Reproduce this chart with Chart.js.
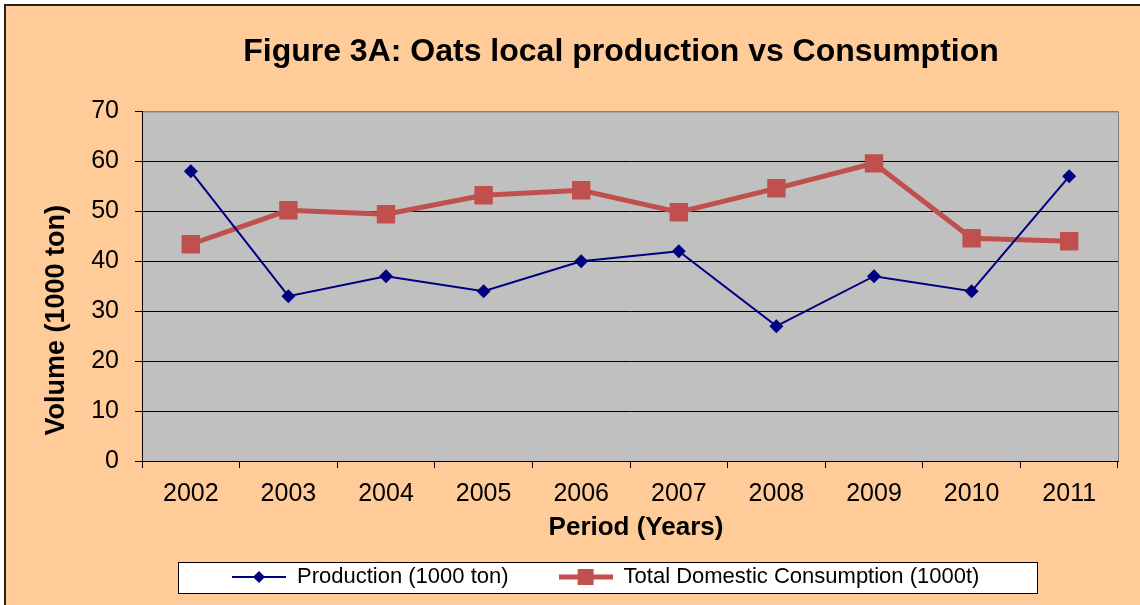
<!DOCTYPE html>
<html>
<head>
<meta charset="utf-8">
<script src="https://cdn.jsdelivr.net/npm/chart.js@4"></script>
<style>
  body { margin: 0; background: #fff; overflow: hidden; }
  #wrap { width: 1140px; height: 605px; }
</style>
</head>
<body>
<div id="wrap"><canvas id="myChart" width="1140" height="605"></canvas></div>
<script>
const years = ['2002', '2003', '2004', '2005', '2006', '2007', '2008', '2009', '2010', '2011'];
const production = [58, 33, 37, 34, 40, 42, 27, 37, 34, 57];
const consumption = [43.4, 50.2, 49.4, 53.2, 54.2, 49.8, 54.6, 59.6, 44.6, 44.0];
const yTicks = [0, 10, 20, 30, 40, 50, 60, 70];

const FONT = '"Liberation Sans", Arial, sans-serif';
const NAVY = '#000080';
const RED = '#C0504D';

// little canvas: line with marker in the middle, for the legend
function legendIcon(color, lineW, style, r) {
	const c = document.createElement('canvas');
	c.width = 54; c.height = 26;
	const g = c.getContext('2d');
	g.strokeStyle = color; g.lineWidth = lineW;
	g.beginPath(); g.moveTo(0, 13); g.lineTo(54, 13); g.stroke();
	g.fillStyle = color;
	if (style === 'rect') {
		g.fillRect(27 - r, 13 - r, 2 * r, 2 * r);
	} else {
		g.beginPath(); g.moveTo(27 - r, 13); g.lineTo(27, 13 - r); g.lineTo(27 + r, 13); g.lineTo(27, 13 + r); g.closePath(); g.fill();
	}
	return c;
}

// move a scale title by dx/dy without touching the scale itself
function nudgeTitle(scale, dx, dy) {
	if (scale._nudged) return;
	const orig = scale.drawTitle.bind(scale);
	scale.drawTitle = function (area) {
		this.ctx.save();
		this.ctx.translate(dx, dy);
		orig(area);
		this.ctx.restore();
	};
	scale._nudged = true;
}

const bgPlugin = {
	id: 'bg',
	afterLayout(chart) {
		const tb = chart.titleBlock;
		const tShift = 621 - (tb.left + tb.right) / 2;
		tb.left += tShift; tb.right += tShift;

		const lg = chart.legend;
		lg.options.labels.padding = 50;
		const start = (lg.left + lg.right + 50 - lg.lineWidths[0]) / 2;
		const d = 232 - start;
		lg.left += d; lg.right += d;
		lg.top = 566 - 50; lg.bottom = chart.height;

		nudgeTitle(chart.scales.y, 0, 34);
		nudgeTitle(chart.scales.x, 6, 0);
	},
	beforeDraw(chart) {
		const ctx = chart.ctx;
		const a = chart.chartArea;
		ctx.save();
		ctx.fillStyle = '#FFCC99';
		ctx.fillRect(5, 5, chart.width, chart.height);
		ctx.strokeStyle = '#222';
		ctx.lineWidth = 2;
		ctx.beginPath(); ctx.moveTo(5, chart.height); ctx.lineTo(5, 5); ctx.lineTo(chart.width, 5); ctx.stroke();
		ctx.fillStyle = '#C0C0C0';
		ctx.fillRect(a.left, a.top, a.right - a.left, a.bottom - a.top);
		ctx.strokeStyle = '#808080';
		ctx.lineWidth = 1;
		ctx.strokeRect(a.left + 0.5, a.top + 0.5, a.right - a.left, a.bottom - a.top);
		// legend frame
		const hb = chart.legend.legendHitBoxes;
		if (hb && hb.length) {
			const l = Math.min(...hb.map(b => b.left)) - 54;
			const r = Math.max(...hb.map(b => b.left + b.width)) + 58;
			const t = Math.min(...hb.map(b => b.top)) - 4;
			const b = Math.max(...hb.map(b => b.top + b.height)) + 5;
			ctx.fillStyle = '#fff';
			ctx.fillRect(l, t, r - l, b - t);
			ctx.strokeStyle = '#000';
			ctx.strokeRect(Math.round(l) + 0.5, Math.round(t) + 0.5, Math.round(r - l), Math.round(b - t));
		}
		ctx.restore();
	}
};

new Chart(document.getElementById('myChart'), {
	type: 'line',
	data: {
		labels: years,
		datasets: [{
			label: 'Production (1000 ton)',
			data: production,
			borderColor: NAVY,
			backgroundColor: NAVY,
			borderWidth: 2,
			pointStyle: 'rectRot',
			pointRadius: 7,
			pointBorderWidth: 0,
			tension: 0
		}, {
			label: 'Total Domestic Consumption (1000t)',
			data: consumption,
			borderColor: RED,
			backgroundColor: RED,
			borderWidth: 5,
			pointStyle: 'rect',
			pointRadius: 13,
			pointBorderWidth: 0,
			tension: 0
		}]
	},
	options: {
		responsive: false,
		animation: false,
		layout: { padding: { left: 10, right: 22, top: 0, bottom: 14 } },
		plugins: {
			title: {
				display: true,
				text: 'Figure 3A: Oats local production vs Consumption',
				color: '#000',
				font: { family: FONT, size: 32, weight: 'bold' },
				padding: { top: 33, bottom: 40 }
			},
			legend: {
				position: 'bottom',
				labels: {
					color: '#000',
					font: { family: FONT, size: 22 },
					usePointStyle: true,
					pointStyleWidth: 54,
					padding: 12,
					generateLabels(chart) {
						return [
							{ text: 'Production (1000 ton)', pointStyle: legendIcon(NAVY, 2, 'rotrect', 6), datasetIndex: 0, fontColor: '#000', lineWidth: 0, strokeStyle: 'rgba(0,0,0,0)' },
							{ text: 'Total Domestic Consumption (1000t)', pointStyle: legendIcon(RED, 5, 'rect', 8), datasetIndex: 1, fontColor: '#000', lineWidth: 0, strokeStyle: 'rgba(0,0,0,0)' }
						];
					}
				}
			},
			tooltip: { enabled: false }
		},
		scales: {
			x: {
				offset: true,
				afterFit(scale) { scale.height = 86; },
				grid: { drawOnChartArea: false, drawTicks: true, tickLength: 7, offset: true, color: '#000' },
				border: { color: '#000', width: 1 },
				ticks: { color: '#000', font: { family: FONT, size: 25 }, padding: 11, maxRotation: 0 },
				title: {
					display: true,
					text: 'Period (Years)',
					color: '#000',
					font: { family: FONT, size: 26, weight: 'bold' },
					padding: { top: 0, bottom: 4 }
				}
			},
			y: {
				min: 0,
				max: 70,
				afterBuildTicks(scale) { scale.ticks = yTicks.map(v => ({ value: v })); },
				afterFit(scale) { scale.width = 132; },
				grid: {
					color: ctx => (ctx.tick && ctx.tick.value === 70 ? '#808080' : '#000'),
					tickLength: 7,
					tickColor: '#000'
				},
				border: { color: '#000', width: 1 },
				ticks: { color: '#000', font: { family: FONT, size: 25 }, padding: 16 },
				title: {
					display: true,
					text: 'Volume (1000 ton)',
					color: '#000',
					font: { family: FONT, size: 27, weight: 'bold' },
					padding: { top: 30, bottom: 4 }
				}
			}
		}
	},
	plugins: [bgPlugin]
});
</script>
</body>
</html>
